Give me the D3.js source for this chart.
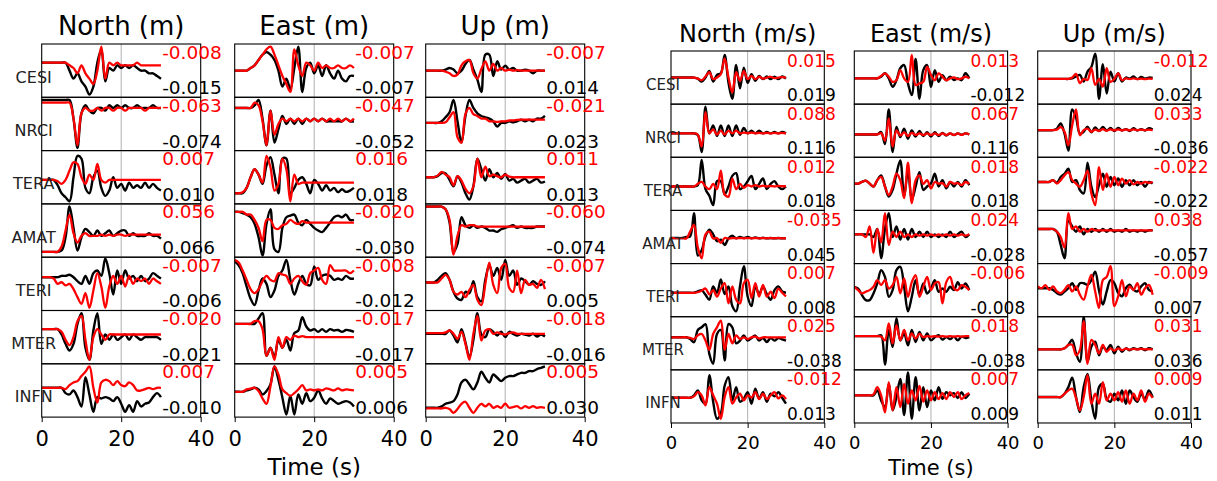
<!DOCTYPE html>
<html>
<head>
<meta charset="utf-8">
<script src="https://cdn.jsdelivr.net/npm/d3@7"></script>
<style>
  body { margin: 0; background: #fff; }
  svg text { font-family: "DejaVu Sans", sans-serif; }
</style>
</head>
<body>
<script>
// stations, one row per station
var stations = ["CESI", "NRCI", "TERA", "AMAT", "TERI", "MTER", "INFN"];
// sample times (s), traces at 1 s steps, values in panel units (-10 bottom .. 10 top)
var time = [0,1,2,3,4,5,6,7,8,9,10,11,12,13,14,15,16,17,18,19,20,21,22,23,24,25,26,27,28,29,30];
var xTicks = [0, 20, 40];

var dispTitles = ["North (m)", "East (m)", "Up (m)"];
var velTitles = ["North (m/s)", "East (m/s)", "Up (m/s)"];

// displacement, observed (black)
var dispNorthObs = [
  [3,3,3,3,3,3,3,0,-3,-1,-4,-6,-9,-6,3,8,-4,1,0,2,1,2,1,2,1,0,0,-1,-1,-2,-3],
  [9,9,9,9,9,9,9,9,2,-9,4,7,5,4,6,6,5,7,6,7,6,7,6,6,7,6,6,6,7,6,6],
  [-1,-1,-1,-1,-3,-6,-7.5,-9,0,8,7,-4,-6,0,2.5,-4,-7,-5,0,-4,-2.5,-5,-2,-4,-3,-4,-2,-4,-2.5,-4,-5],
  [-8,-8,-8,-8,-8,-7.5,-2.5,9,1,-7.5,-2.5,0.6,-0.6,-2,0,-2,-1,0,-2,-1,0,0,-2,-1,-2,-2,-2,-1,-2,-2,-3],
  [2.5,2.5,2.5,2.5,2.5,3,3,3.4,2.5,1,0,3,0,4,5,3,9.5,4,-4,5,0,5,2,3,1,3,1,2,4,3,2],
  [3,3,3,3,3,1,-2.5,-5,-2.5,5,9,-4,-8.5,2.5,9,-2.5,1,-1,1,-1,0,1,-1,1,0,-1,0,0,0,0,-1],
  [1,1,1,1,1,1,-1,-1.5,0,-2.5,-6,5,-1.5,-8,-2.5,-3,-2.5,-3,-4,-2.5,-5,-8,-5.5,-8,-4,-6,-5,-4.5,-2.5,-1,-2.5]
];
var dispEastObs = [
  [0,0,0,0,1,2,4,6,7,6,4,0,-6,-3,-7,1,9,-8,1,3,-1,2,-2,2,-1,-3,0,-3,-4,-2,-2],
  [6,6,6,6,6,7,9,2,-8,5,-7,-2,3,0,2,0,2,0,2,1,2,1,2,1,1,1,1,1,2,1,1],
  [-6,-6,-6,-4,0,3,1,-2.5,4.4,7.5,1,-6,7,7,-6,-4,-1,0,-2.5,-6,-1,-2.5,-5,-3,-5,-4,-5.6,-4.5,-5.5,-5,-4],
  [7,7,6.5,6,5,2.5,-2.5,-9.4,2.5,8,-7,-8,1,5,5.6,6,3,2,4,2.5,1,0,-0.6,1,3,5,5.6,5,6,4,4],
  [8.4,7,4,-1,-5.6,-8,-2.5,2,0,-5,-2.5,3,5,9,1.5,-4,0,3,0,-0.5,6.5,1.5,3,3.5,3,1.5,2,1.5,3,2,2],
  [5,5,5,5,5,5,7,9,-7,-4,-7.5,-1,-4,-1,-5,1.5,2.5,7.5,4,2.5,3,2,3,2,3,2.5,2.7,2,2.7,2.5,2],
  [-0.5,-0.5,-0.5,0,0.4,1,0.4,-1.5,-0.2,2.3,9,4,-2.7,-9,-2,-9,-1.5,-5,-1,-4,-2.7,0,-3,-5,-3,-4,-5,-4.5,-4,-4.5,-6]
];
var dispUpObs = [
  [0,0,0,0,0,0.4,1,0.4,-1,0,2.5,4,0.4,-3.4,-8,6,6,-2,3.5,0.4,1.9,0.4,1,0,0,0.4,0,-1,0,0,0],
  [0.4,0.4,0.4,0.4,1,2.5,4.4,9,1,-7,3,9,6,4,3,2.5,2,1,-1,0.4,0.4,1,0.6,1,1.6,1,1.6,1,2,2,3],
  [0,0,0,0.4,1.6,1.4,-1,-3.4,0.4,-2,-6,-8.4,-3.4,7,3,-1.25,3,0,1.6,-0.6,1.25,-1.25,-0.6,-2,-1.25,-0.6,-2,-1.25,-0.6,-2,-1.6],
  [9,9,9,9,9,8,3,-8,-5,5,2,1,2,1,1.5,1,0,0,-0.5,0.5,1,1.5,2,1,1.5,1,1,1,1.5,1.5,1.5],
  [0.5,0.5,0.5,1.5,3,4,1.5,-3,-5.5,-6,-3,-3.5,1,-5,-6.6,1.5,7,3,6,1.5,9,3,5,-0.4,2,1,-0.4,1,0,-0.4,1],
  [1.25,1.25,1.25,1.25,1.25,1.25,2.5,0.6,-2,3,-2,-7.5,-1,9,1,0,3,2,0.6,2,0,2,1.25,0.6,1.25,1,0.6,1.25,0.25,1,0.25],
  [-6.5,-6.5,-6.5,-6.5,-6,-5,-4.6,-4,-1.5,3,4,2.25,0.4,3,7,4.75,3,6,4.75,3.5,4.75,5.4,5.4,6,6.6,6.6,7.25,7.25,8,8.5,9]
];
// displacement, synthetic (red)
var dispNorthSyn = [
  [3,3,3,3,3,3,3,2,1,-1,2,-1,-3,-5,0,9,-3,3,2,3,2,2,2,2,3,2,2,2,2,2,2],
  [8,8,8,8,8,8,8,8,2,-8,4,6,5,5,6,5,6,6,5,6,6,5,6,6,6,6,5,6,6,6,6],
  [-1,-1,-1,-1,-1.5,-2.5,-1,2.5,5.6,5,0,-2.5,1,-1,5,-1,-2,-1,-1,-1,-1,-1,-1,-1,-1,-1,-1,-1,-1,-1,-1],
  [-8,-8,-8,-8,-8,-6,0,6,-1,-4.5,-2,-1,-2,-2,-2,-1.5,-2,-1.5,-2,-1.5,-1.5,-2,-1.5,-1.5,-1.5,-1.5,-1.5,-1.5,-1.5,-1.5,-1.5],
  [2.5,2.5,2.5,2,0,0.6,-0.6,0,-2,-5,-7.5,-3.5,-9,-2.5,4,-1,-9,-1,3,0,3,-1,3,0,2,1,2,0,2,1,0],
  [3,3,3,3,3,2,-1,-3,0,6,8,-1,-8.5,0,3,1,-1,1,1,1,1,1,1,1,1,1,1,1,1,1,1],
  [1,1,1,1,1,1,0.5,2,3,3.5,5.4,7,9,1,-4.6,3,4,3.5,2,3.5,2,1.6,3,2,0,0,0.5,1,0.5,1,1]
];
var dispEastSyn = [
  [0,0,0,0,1,2,4,6,8,9,6,2,-2,-5,-8,8,2,-2,3,2,0,3,1,2,1,1,2,1,1,2,1],
  [6,6,6,6,6,8,7,1,-8,5,-4,0,2,1,2,1,2,1,2,1,2,1,2,1,2,1,2,1,2,1,2],
  [-6,-6,-5.6,-4,0,3,1,-2,8,3.75,-5,-2.5,7,3,-9,1,-2.5,-2,-2,-2,-2,-2,-2,-2,-2,-2,-2,-2,-2,-2,-2],
  [7,7,7,6,6,4,1,-4,4,4,1,0.6,2,2.5,4,3,2.5,3.5,3,3,3,3,3,3,3,3,3,3,3,3,3],
  [9,8,5,1.5,-2,-3.5,-2,1,3,1.5,1,4,3.5,3,0,2,3,1,-0.4,4,5,6,1.5,0,7,5,5,5,5,4,5],
  [5,5,5,5,5,6,6,3,-7,-4,-8.5,0,-4,0,-1,0.6,0,0.4,0,0,0,0,0,0,0,0,0,0,0,0,0],
  [-0.5,-0.5,-0.5,0.4,0.7,1,-0.2,-3,-5,1.6,9,6,0.4,-1,-2,-1,0.4,2,0,0.4,0,0.4,0,0.8,0.4,0,0.8,0,0.4,0.2,0]
];
var dispUpSyn = [
  [0,0,0,0,0,-0.4,-1,-2,-1.5,2,3.5,4,-1,-3,0.6,3.5,0,2.5,0,1,0,0.4,0,0.2,0,0,0,0,0,0,0],
  [0.4,0.4,0.4,0.4,0.4,0.6,2.5,4.4,-5,-7,3.7,6,3.7,3,2,2,1,1,0.8,1,1,1.3,1.3,1.5,1.6,1.6,1.6,1.6,1.6,1.6,1.6],
  [0,0,0,0.6,2,1,0,-3,0.4,-1.25,-4.4,-6,-3.4,7,0,4,0.4,1,0.4,0,1,0.2,0,0,0,0,0,0,0,0,0],
  [9,9,9,9,9,8,4,-9,-2,2,1.5,2,2,1.5,1.5,1.5,1.5,1.5,1.5,1.5,1.5,1.5,1.5,1.5,1.5,1.5,1.5,1.5,1.5,1.5,1.5],
  [0.5,0.5,0.5,0.5,2,3.4,1.5,-3,-4,-3,-5,-2.3,-0.4,-6,-8,0,8,-0.4,-3.5,6,7.5,-1.5,-3,5,-3.5,1.5,-0.4,0,-1.5,1.5,-2],
  [1.5,1.5,1.5,1.5,1.5,1.8,2.5,1.25,-0.6,2,-2.5,-8.5,1.25,8,-1.25,2.5,3,1.25,1.8,1.25,1,1.5,1.8,1.25,1.25,1.25,1.25,1.25,1.25,1.25,1.25],
  [-6.75,-6.75,-6.75,-6.75,-6.75,-6.5,-7,-8.4,-7,-5,-4.25,-6.5,-8.4,-6.5,-5,-6,-5,-6.5,-5.9,-6.5,-5,-6.5,-6.25,-5.9,-6.75,-5.9,-6.5,-5.9,-6.5,-6.25,-6.5]
];

// velocity, observed (black)
var velNorthObs = [
  [0,0,0,0,0,0,0,-0.4,-1.5,0,2.5,-1.5,1,1.6,8.5,-2,-8,4.75,-4,3.75,-2,1.25,-1.25,0.6,-0.6,0.4,-0.6,0.3,-0.6,0.4,-0.4],
  [-1,-1,-1,-1,-1,-1,-1,-1.6,-8,9,-1,2,-2,2,-2,2,-2,2,-1.5,1,-1,0,-1,0,-1,-0.5,-1,-0.5,-1,-0.5,-1],
  [-1,-1,-1,-1,-1,-1,-1,-0.5,9,-2,-4.5,-8,1,1,-4,-1,3,4,-2,-1,1,3,-2,0,2,-2,0,1,-1,-2,-1],
  [-0.4,-0.4,-0.4,-0.4,0,0.25,9,-7,-5,0.25,2.75,1,-1.6,-1,-3,-0.5,0.5,-0.5,0,-0.4,0,-0.5,-0.2,-0.5,-0.3,-0.5,-0.4,-0.5,-0.4,-0.5,-0.5],
  [-1,-1,-1,-1,-1,-1,-1,-0.5,0,-1.75,-3.6,1.4,-1,4,-1.5,1.4,-6,-8,1.4,9,-2.4,-6,1.4,-1.5,1.4,-1.5,-3.6,0,1.4,-0.5,-1],
  [2.25,2.25,2.25,2.25,2.25,1.6,0.4,5,6,7.2,-4,-7.7,3.5,5,-6.5,7.2,6,0,1,2.9,1,2,2.9,1,2,0.5,2,1,2,1.5,1],
  [-0.5,-0.5,-0.5,-0.5,-0.5,-0.5,0.4,2.25,-1.5,-2.75,8,-2,-8.4,-6.5,4,7.25,-1.5,3.5,-2,-0.9,1.6,-2.75,2.9,-0.9,1.6,-2,1,0,1.6,-0.5,-2.75]
];
var velEastObs = [
  [-0.3,-0.3,-0.3,-0.3,-0.3,-0.3,-0.3,0.3,1.6,-0.3,-3.5,-1,3.5,4.7,-2.2,-6.6,7,-8,2.8,4.7,-3.5,2.8,-1.6,0.9,-1,0.3,-0.9,-0.3,-1,1.6,-0.3],
  [-1.4,-1.4,-1.4,-1.4,-1.4,-1.4,-1.4,-0.5,-5,8,-8,1.4,-2.4,0.8,-3,0.1,-2.2,-0.1,-2,-0.6,-2.2,-0.6,-2,-0.8,-1.8,-1,-1.6,-1,-1.5,-1,-1.4],
  [0.1,0.1,0.7,1.2,0.1,-1,1.4,3.2,-1,-4.8,-2.3,3.8,8.8,-4.8,5,-6,-1,4.4,-2.3,-1,0.1,3.8,-1,1.4,-1.7,0.7,-1,0.7,-1,1.4,-0.5],
  [1,1,1,1,1,0,3,-8,3,9,0,4,-1,3,-1,3,0,2,0,2,0,1,0,1,0,2,0,1,2,0,1],
  [1.25,0.6,-1.9,-3.75,-3.75,-1.25,2.5,7.5,5,-2.5,0,7.5,8.75,1.25,-8,-2.5,3.75,-1.9,2.5,-1.25,0.6,3.75,-0.6,0.6,-0.6,1.25,0,3,0.6,2.5,0],
  [2.7,2.7,2.7,2.7,2.7,2.7,2.7,3,-8,5,-1.4,9.4,1.1,3.7,-0.8,5,0.5,4.3,1.1,3.7,1.1,2.3,3,1.4,2.3,1.6,2.5,1.1,2.5,2,2.3],
  [0.4,0.4,0.4,0.4,0.4,0.4,2.25,-1.5,-4,4.75,-5.25,-0.25,6.6,-7,9,-8.4,7.25,-5.25,3.5,-4,2.25,-1.5,3.5,-0.9,1.6,0.4,1.25,-0.6,1.6,-0.6,1]
];
var velUpObs = [
  [-0.5,-0.5,-0.5,-0.5,-0.5,-0.5,-0.5,-0.5,-0.5,-0.3,0.4,1,-1.5,2.25,4,9,-8,5,-6,2.25,-1.5,1.6,-1.5,0,-0.4,0.4,-0.6,0.2,-0.4,0,-0.1],
  [0.2,0.2,0.2,0.2,0.2,0.8,2.7,-1.1,-7.5,8,5,-1.1,-0.4,1.5,-0.6,1.2,-0.1,1.4,0.1,1,-0.1,1,0.1,0.6,-0.1,0.9,0.1,0.6,0.1,0.9,0.4],
  [0.7,0.7,0.7,0.7,1.4,0.4,2.6,3.8,5.7,0.7,1.4,-2.3,-3.6,8,-1,-5,-0.5,3.8,-1.1,2.6,-0.5,2,-1.1,1.4,-0.5,1.4,-0.5,0.7,-1.1,0.7,0.1],
  [3,3,3,3,3,2,-3,-8,6,4,2,4,1,3,2,3,2,3,2,3,2,2.5,2,3,2,2.5,2,2.5,2,2.5,2.5],
  [0.7,0.7,0.7,0.7,0.1,-1.1,-1.7,-0.5,0.7,2.6,0.1,2.6,2.6,2,3.8,6.9,-0.1,-5.4,-0.5,3.8,2.6,-1.1,-2.3,0.7,2,0.1,-0.5,1.4,2.6,0.1,-0.5],
  [-2.3,-2.3,-2.3,-2.3,-2.3,-2.3,-2.3,-1.9,-0.6,1.3,-3.8,-7,10,-7,-1.3,0.6,-4.5,-1.3,-2.6,-0.6,-3.8,-1.3,-3.2,-1.9,-2.6,-1.9,-2.3,-1.9,-2.6,-1.9,-2.3],
  [-0.25,-0.25,-0.25,-0.25,-0.25,-0.25,-0.25,1,3.5,7,-0.25,-5.9,3.5,8.5,-1.5,-8.4,3.5,4.75,-1,-2,1,-1.5,2.25,-2.75,2.25,-0.25,-2,1,-1,2.25,-0.25]
];
// velocity, synthetic (red)
var velNorthSyn = [
  [0,0,0,0,0,0,0,-0.4,-1,0.4,2,-0.6,0,1.25,7.25,0,-5.6,2,-1.25,2.5,-0.6,0.6,-0.6,0.3,-0.4,0,0.3,-0.2,0,0.2,0],
  [-1,-1,-1,-1,-1,-1,-1,-1.5,-6,7,-1,0.5,-1.5,0,-1.5,0,-1,0,-1,-0.7,-1,-0.7,-1,-0.8,-1,-0.8,-1,-0.8,-1,-0.8,-1],
  [-1,-1,-1,-1,-1,-1,-1,0,0.7,-1,-2,0,-2,5,-4,-4.8,2,-2,0,-1.5,-0.5,-1,-0.5,-1,-0.7,-1,-0.8,-1,-0.8,-0.9,-0.9],
  [-0.4,-0.4,-0.4,-0.4,-0.6,2,4.6,-4,-8,1,2,-0.6,-0.4,-2.25,-0.4,-0.6,-0.4,-0.5,-0.4,-0.5,-0.4,-0.5,-0.4,-0.5,-0.4,-0.5,-0.4,-0.5,-0.4,-0.5,-0.4],
  [-1,-1,-1,-1,-1,-1,-1,-0.8,-0.2,0.6,-1.6,0,-2.4,0.6,2.6,-5,1.4,-3.6,-5,2.6,3.9,-3,2.6,-2.4,2,-2.4,-0.6,-3,0.6,-1,-2.4],
  [2.25,2.25,2.25,2.25,2.25,2,1.6,3,3.5,1,-2.5,3.5,6,8.5,-2.5,3.5,0,3,1.6,2.25,1.6,2.25,2.5,1.8,2.25,2.25,2.25,2.25,2.25,2.25,2.25],
  [-0.5,-0.5,-0.5,-0.5,-0.5,-0.5,0,1.6,0.4,-3.4,3.5,0.4,-2.75,-8.4,-0.25,3.5,-2.75,-0.4,1,-1.5,0.4,-0.4,1.6,-1,1,-1,0.4,1.6,-0.75,0.4,-1]
];
var velEastSyn = [
  [-0.3,-0.3,-0.3,-0.3,-0.3,-0.3,-0.3,0.6,1.6,0.3,-1.6,-1,2.8,-0.3,-1.6,8.5,-2.8,-2.2,-1.6,4,1,-1,1.6,0.3,-1,-0.3,0.1,-0.6,-0.3,0.3,-0.3],
  [-1.4,-1.4,-1.4,-1.4,-1.4,-1.4,-1.4,-0.9,-3.7,4.6,-6,0.1,-1.8,-0.6,-2,-0.8,-1.6,-1,-1.6,-1,-1.6,-1,-1.6,-1,-1.6,-1,-1.6,-1,-1.6,-1,-1.4],
  [0.1,0.1,0.7,1.2,0.1,-1,1.4,2.6,-1,-4.2,-1,3.8,1.4,-5.4,8,-7.3,1.4,3.2,0,1.4,-1.7,0.7,0.1,0.3,-1,0.7,0.1,0.3,-0.5,0.7,0],
  [1,1,1,0,4,-6,3,-2,9,-3,2,0,2,0,1,0,1,0.5,1,0.5,1,0.5,1,0.5,1,0.5,1,0.5,1,0.5,1],
  [1.25,0,-1.25,-0.6,0,1.25,3.75,1.9,3.75,0.6,1.9,5,-1.25,4.4,-2.5,3,5.6,-2.5,1.25,5,0,2.5,3,-5,3,5,0.6,0,1.9,1.25,0],
  [2.7,2.7,2.7,2.7,2.7,2.7,2.7,2.5,1.1,7.5,-0.1,6.8,1.1,5,1.1,3.7,1.8,3.5,2.3,2.7,2.5,2.7,2.5,2.7,2.5,2.7,2.5,2.7,2.5,2.7,2.7],
  [0.4,0.4,0.4,0.4,0.4,0.75,3.5,0.4,-6,5.4,-5.25,3.5,-4,4.75,-2.75,2.25,-1.5,4,-2,2.25,-1.5,1.6,-1,1.25,-1,1.6,-0.25,1.6,-1,0.4,1.25]
];
var velUpSyn = [
  [-0.5,-0.5,-0.5,-0.5,-0.5,-0.5,-0.5,-0.5,-0.5,0,1.4,-2.1,-0.5,-0.9,3.5,-2.75,-0.5,-3.4,3.5,-1.6,-0.5,1.6,-1,-0.3,-0.6,-0.3,-0.6,-0.4,-0.6,-0.4,-0.5],
  [0.2,0.2,0.2,0.2,0.2,0.4,1.4,-0.4,-5.5,2,8,-1.7,0.2,0.8,-0.4,0.4,-0.1,0.6,0,0.5,0.1,0.5,0.1,0.5,0.1,0.5,0.2,0.4,0.2,0.4,0.2],
  [0.7,0.7,0.7,0.7,1.4,0.1,1.4,3.2,4.4,1.4,0.1,-1.1,1.4,5,-3.6,-8,6.3,-2.3,3.8,-1.1,2.6,-0.5,2,0.1,1.4,-0.2,0.7,0.1,0.7,0.4,0.7],
  [3,3,3,3,3,2,0,-4,9,3,4,2,3,2,3,2.5,2.5,2.5,2.5,2.5,2.5,2.5,2.5,2.5,2.5,2.5,2.5,2.5,2.5,2.5,2.5],
  [1.4,0.7,1.9,0.1,1.4,-0.5,-1.1,0.1,1.9,-0.5,1.4,-1.7,-3.6,1.4,5.7,-0.5,-6.7,3.8,5,9,-6,-2.3,3.8,-2.3,1.4,0.1,2.6,-1.7,0.7,2,-1.7],
  [-2.3,-2.3,-2.3,-2.3,-2.3,-2.3,-2.3,-1.9,-0.6,-0.6,-4.5,-2.6,8.3,-7.7,1.3,-0.6,-3.8,-0.6,-3.2,-1.9,-2.8,-1.9,-2.6,-2,-2.4,-2.1,-2.3,-2.1,-2.3,-2.2,-2.3],
  [-0.25,-0.25,-0.25,-0.25,-0.25,-0.25,-0.25,1,2.25,2.9,-0.6,-5.25,-0.25,8,-2.75,1,-2.75,5.4,-1.5,1,-1.5,1.6,-2,2.25,-2.75,1,-1.5,2.25,-2,1,-0.6]
];

// peak values printed in each panel (red = synthetic, black = observed)
var dispSynPeak = [
  [-0.008, -0.063, 0.007, 0.056, -0.007, -0.020, 0.007],
  [-0.007, -0.047, 0.016, -0.020, -0.008, -0.017, 0.005],
  [-0.007, -0.021, 0.011, -0.060, -0.007, -0.018, 0.005]
];
var dispObsPeak = [
  [-0.015, -0.074, 0.010, 0.066, -0.006, -0.021, -0.010],
  [-0.007, -0.052, 0.018, -0.030, -0.012, -0.017, 0.006],
  [0.014, 0.023, 0.013, -0.074, 0.005, -0.016, 0.030]
];
var velSynPeak = [
  [0.015, 0.088, 0.012, -0.035, 0.007, 0.025, -0.012],
  [0.013, 0.067, 0.018, 0.024, -0.006, 0.018, 0.007],
  [-0.012, 0.033, -0.022, 0.038, -0.009, 0.031, 0.009]
];
var velObsPeak = [
  [0.019, 0.116, 0.018, 0.045, 0.008, -0.038, 0.013],
  [-0.012, 0.116, 0.018, -0.028, -0.008, -0.038, 0.009],
  [0.024, -0.036, -0.022, -0.057, 0.007, 0.036, 0.011]
];

var w = 1217, h = 481;
var svg = d3.select("body").append("svg")
  .attr("width", w)
  .attr("height", h);

// the two figures, side by side
var figs = [
  { lefts: [41.7, 234.7, 425.7], pw: 159, top: 44, rowH: 53.3,
    titles: dispTitles, obs: [dispNorthObs, dispEastObs, dispUpObs], syn: [dispNorthSyn, dispEastSyn, dispUpSyn],
    obsPk: dispObsPeak, synPk: dispSynPeak,
    titleSize: 26, titleY: 35, numSize: 18.5, redDy: 14.5, staSize: 16, tickFont: 21, tickPad: 9, xlabSize: 23 },
  { lefts: [671, 854.3, 1037.7], pw: 153.3, top: 51, rowH: 53.14,
    titles: velTitles, obs: [velNorthObs, velEastObs, velUpObs], syn: [velNorthSyn, velEastSyn, velUpSyn],
    obsPk: velObsPeak, synPk: velSynPeak,
    titleSize: 24, titleY: 41.7, numSize: 17, redDy: 15.5, staSize: 15, tickFont: 18, tickPad: 8, xlabSize: 21 }
];

var fmt = function(v) { return v.toFixed(3); };
var clipId = 0;

figs.forEach(function(f) {
  var x = d3.scaleLinear().domain([0, 40]).range([0, f.pw]);
  var y = d3.scaleLinear().domain([-10, 10]).range([f.rowH, 0]);
  var line = d3.line()
    .x(function(d, i) { return x(time[i]); })
    .y(function(d) { return y(d); })
    .curve(d3.curveCatmullRom);

  f.lefts.forEach(function(cx, c) {
    var col = svg.append("g").attr("transform", "translate(" + cx + "," + f.top + ")");

    // column title
    svg.append("text")
      .attr("x", cx + f.pw / 2)
      .attr("y", f.titleY)
      .attr("text-anchor", "middle")
      .attr("font-size", f.titleSize)
      .text(f.titles[c]);

    stations.forEach(function(st, r) {
      var g = col.append("g").attr("transform", "translate(0," + (r * f.rowH) + ")");
      var id = "clip" + (clipId++);
      g.append("clipPath").attr("id", id)
        .append("rect").attr("width", f.pw).attr("height", f.rowH);

      // grid line at 20 s
      g.append("line")
        .attr("x1", x(20)).attr("x2", x(20))
        .attr("y1", 0).attr("y2", f.rowH)
        .attr("stroke", "#b0b0b0").attr("stroke-width", 1);

      var traces = g.append("g").attr("clip-path", "url(#" + id + ")");
      traces.append("path")
        .attr("d", line(f.obs[c][r]))
        .attr("fill", "none").attr("stroke", "#000").attr("stroke-width", 2.4);
      traces.append("path")
        .attr("d", line(f.syn[c][r]))
        .attr("fill", "none").attr("stroke", "#ff0000").attr("stroke-width", 2.3);

      g.append("rect")
        .attr("width", f.pw).attr("height", f.rowH)
        .attr("fill", "none").attr("stroke", "#000").attr("stroke-width", 1.1);

      // peak values
      g.append("text")
        .attr("x", x(30.3)).attr("y", f.redDy)
        .attr("font-size", f.numSize).attr("fill", "#ff0000")
        .text(fmt(f.synPk[c][r]));
      g.append("text")
        .attr("x", x(30.3)).attr("y", f.rowH - 3)
        .attr("font-size", f.numSize).attr("fill", "#000")
        .text(fmt(f.obsPk[c][r]));

      if (c === 0) {
        g.append("text")
          .attr("x", -8).attr("y", f.rowH / 2 + 12)
          .attr("text-anchor", "middle")
          .attr("font-size", f.staSize)
          .attr("fill", "#222")
          .text(st);
      }
    });

    // x axis under the last row
    var xAxis = d3.axisBottom(x)
      .tickValues(xTicks)
      .tickSize(5)
      .tickSizeOuter(0)
      .tickPadding(f.tickPad);
    var ax = col.append("g")
      .attr("transform", "translate(0," + (stations.length * f.rowH) + ")")
      .call(xAxis);
    ax.select(".domain").remove();
    ax.selectAll("text")
      .attr("font-size", f.tickFont)
      .attr("font-family", "DejaVu Sans, sans-serif")
      .attr("fill", "#000");
    ax.selectAll("line").attr("stroke", "#000");
  });

  // x label under the middle column
  svg.append("text")
    .attr("x", f.lefts[1] + f.pw / 2)
    .attr("y", 475)
    .attr("text-anchor", "middle")
    .attr("font-size", f.xlabSize)
    .text("Time (s)");
});
</script>
</body>
</html>
